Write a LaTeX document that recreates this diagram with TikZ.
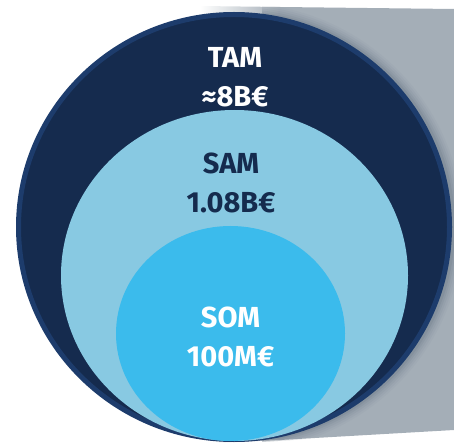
\documentclass[tikz,border=0pt]{standalone}
\usepackage{fontspec}
\setmainfont{Fira Sans}
\usetikzlibrary{positioning, shapes.geometric}
\definecolor{tamnavy}{HTML}{152B4E}
\definecolor{ringblue}{HTML}{1D3C6C}
\definecolor{samblue}{HTML}{88C9E2}
\definecolor{somblue}{HTML}{3BBBEC}
\definecolor{backgrey}{HTML}{A4AEB7}
\definecolor{shadowgrey}{HTML}{5F6E7E}

\begin{document}
\begin{tikzpicture}[
		x=1pt, y=-1pt,
		market/.style={ellipse, inner sep=0pt},
		value/.style={font=\fontsize{29}{39}\selectfont\bfseries, align=center, inner sep=0pt}
		]
		\useasboundingbox (0,0) rectangle (454,443);
		% grey backdrop, fading out to the left, with soft shadow
		\fill[backgrey] (280,7) -- (454,9) -- (454,430) -- (280,440) -- cycle;
		\shade[left color=white, right color=backgrey] (200,6) -- (280,7) -- (280,40) -- (200,40) -- cycle;
		\shade[left color=white, right color=backgrey] (215,443) -- (280,440) -- (280,400) -- (215,400) -- cycle;
		\begin{scope}
			\clip (262,6) -- (454,9) -- (454,430) -- (262,442) -- cycle;
			\foreach \d/\o in {9/0.05, 7/0.07, 5/0.09, 3/0.12, 1/0.18}
				\fill[shadowgrey, opacity=\o] (236,227) ellipse ({218pt+\d pt} and {215pt+\d pt});
		\end{scope}

		% markets
		\node[market, fill=tamnavy, draw=ringblue, line width=5pt, minimum width=431pt, minimum height=425pt] (tam) at (234,227) {};
		\node[market, fill=samblue, minimum width=347pt, minimum height=331pt] (sam) at (234.5,275.5) {};
		\node[market, fill=somblue, minimum width=229pt, minimum height=215pt] (som) at (230.5,333.5) {};

		% labels
		\node[value, text=white, below=35pt of tam.north, xshift=1pt] (tamlabel) {TAM\\≈8B€};
		\node[value, text=tamnavy, below=43pt of sam.north, xshift=-3.5pt] (samlabel) {SAM\\1.08B€};
		\node[value, text=white, below=81pt of som.north] (somlabel) {SOM\\100M€};
	\end{tikzpicture}
\end{document}
